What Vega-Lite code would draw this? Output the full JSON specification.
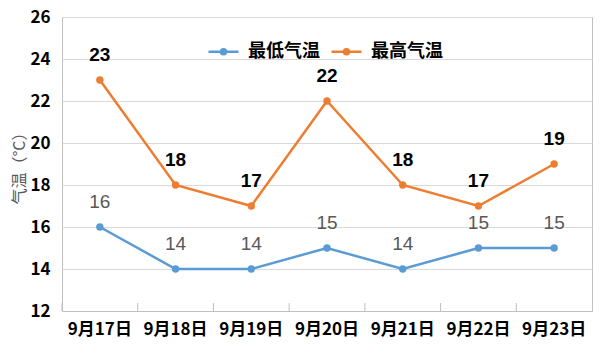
{
  "$schema": "https://vega.github.io/schema/vega-lite/v6.json",
  "width": 530,
  "height": 294,
  "autosize": {"type": "none"},
  "padding": {"left": 62, "top": 17, "right": 18, "bottom": 44},
  "background": "white",
  "config": {
    "view": {"stroke": "#bfbfbf", "strokeWidth": 1},
    "font": "Noto Sans CJK SC"
  },
  "data": {
    "values": [
      {"date": "9月17日", "series": "最低气温", "value": 16},
      {"date": "9月18日", "series": "最低气温", "value": 14},
      {"date": "9月19日", "series": "最低气温", "value": 14},
      {"date": "9月20日", "series": "最低气温", "value": 15},
      {"date": "9月21日", "series": "最低气温", "value": 14},
      {"date": "9月22日", "series": "最低气温", "value": 15},
      {"date": "9月23日", "series": "最低气温", "value": 15},
      {"date": "9月17日", "series": "最高气温", "value": 23},
      {"date": "9月18日", "series": "最高气温", "value": 18},
      {"date": "9月19日", "series": "最高气温", "value": 17},
      {"date": "9月20日", "series": "最高气温", "value": 22},
      {"date": "9月21日", "series": "最高气温", "value": 18},
      {"date": "9月22日", "series": "最高气温", "value": 17},
      {"date": "9月23日", "series": "最高气温", "value": 19}
    ]
  },
  "encoding": {
    "x": {
      "field": "date",
      "type": "nominal",
      "sort": null,
      "scale": {"type": "band", "paddingInner": 0, "paddingOuter": 0},
      "axis": {
        "title": null,
        "labelAngle": 0,
        "labelFontSize": 17,
        "labelFontWeight": "bold",
        "labelColor": "#000000",
        "labelPadding": 10,
        "ticks": false,
        "domainColor": "#bfbfbf",
        "grid": false
      }
    },
    "y": {
      "field": "value",
      "type": "quantitative",
      "scale": {"domain": [12, 26], "nice": false},
      "axis": {
        "values": [12, 14, 16, 18, 20, 22, 24, 26],
        "title": "气温（°C）",
        "titleFontSize": 16,
        "titleFontWeight": "normal",
        "titleColor": "#595959",
        "titleX": -43,
        "titleY": 147,
        "titleAngle": -90,
        "titleAlign": "center",
        "titleBaseline": "middle",
        "labelFontSize": 17,
        "labelFontWeight": "bold",
        "labelColor": "#000000",
        "labelPadding": 12,
        "ticks": false,
        "domain": false,
        "gridColor": "#d9d9d9",
        "gridWidth": 1
      }
    }
  },
  "layer": [
    {
      "mark": {"type": "rule", "color": "#bfbfbf", "strokeWidth": 1},
      "transform": [{"filter": "datum.series === '最低气温'"}],
      "encoding": {
        "x": {"field": "date", "type": "nominal", "sort": null, "bandPosition": 0},
        "y": {"datum": 12},
        "y2": {"datum": 12.38}
      }
    },
    {
      "mark": {"type": "line", "strokeWidth": 2.5},
      "encoding": {
        "color": {
          "field": "series",
          "type": "nominal",
          "scale": {"domain": ["最低气温", "最高气温"], "range": ["#5B9BD5", "#ED7D31"]},
          "legend": {
            "title": null,
            "orient": "none",
            "legendX": 145,
            "legendY": 18,
            "direction": "horizontal",
            "labelFontSize": 18,
            "labelFontWeight": "bold",
            "labelColor": "#000000",
            "symbolType": "M-1,0L1,0M-0.17,0A0.17,0.17 0 1,1 0.17,0A0.17,0.17 0 1,1 -0.17,0Z",
            "symbolSize": 900,
            "symbolStrokeWidth": 2.5,
            "symbolOpacity": 1,
            "columnPadding": 6,
            "labelOffset": 8
          }
        }
      }
    },
    {
      "mark": {"type": "point", "filled": true, "size": 55, "opacity": 1},
      "encoding": {
        "color": {"field": "series", "type": "nominal"}
      }
    },
    {
      "mark": {"type": "text", "dy": -25, "fontSize": 19, "font": "Liberation Sans", "color": "#595959"},
      "transform": [{"filter": "datum.series === '最低气温'"}],
      "encoding": {
        "text": {"field": "value", "type": "quantitative"}
      }
    },
    {
      "mark": {"type": "text", "dy": -25, "fontSize": 19, "font": "Liberation Sans", "fontWeight": "bold", "color": "#000000"},
      "transform": [{"filter": "datum.series === '最高气温'"}],
      "encoding": {
        "text": {"field": "value", "type": "quantitative"}
      }
    }
  ]
}
